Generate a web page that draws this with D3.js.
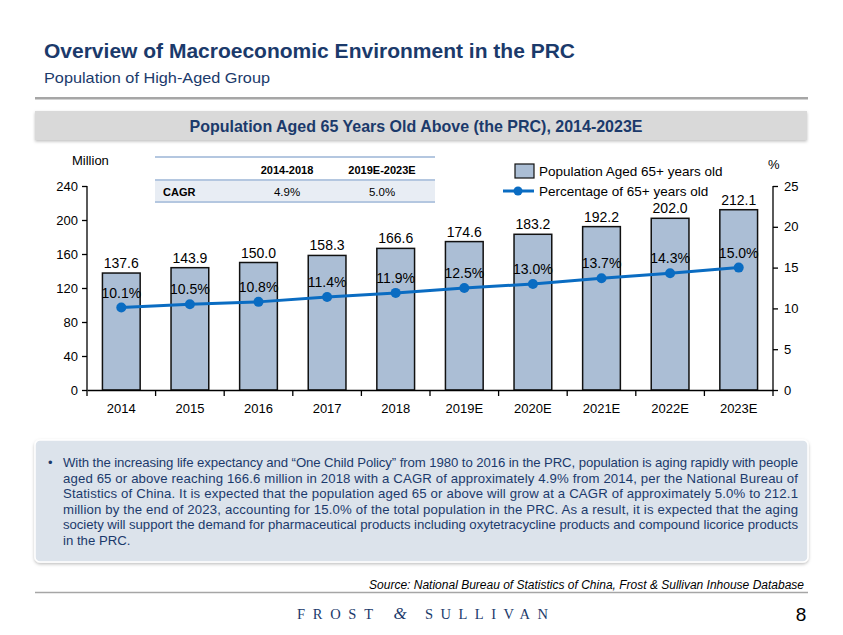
<!DOCTYPE html>
<html><head><meta charset="utf-8">
<script src="https://cdn.jsdelivr.net/npm/d3@7"></script>
<style>
html,body{margin:0;padding:0;background:#fff;}
svg{display:block;font-family:"Liberation Sans",Arial,sans-serif;}
</style></head>
<body>
<svg id="c" width="843" height="635"></svg>
<script>
const years = ["2014","2015","2016","2017","2018","2019E","2020E","2021E","2022E","2023E"];
const population = [137.6,143.9,150.0,158.3,166.6,174.6,183.2,192.2,202.0,212.1];
const percentage = [10.1,10.5,10.8,11.4,11.9,12.5,13.0,13.7,14.3,15.0];
const leftTicks = [0,40,80,120,160,200,240];
const rightTicks = [0,5,10,15,20,25];
const cagrPeriods = ["2014-2018","2019E-2023E"];
const cagrValues = ["4.9%","5.0%"];
const bodyLines = [
 "With the increasing life expectancy and \u201cOne Child Policy\u201d from 1980 to 2016 in the PRC, population is aging rapidly with people",
 "aged 65 or above reaching 166.6 million in 2018 with a CAGR of approximately 4.9% from 2014, per the National Bureau of",
 "Statistics of China. It is expected that the population aged 65 or above will grow at a CAGR of approximately 5.0% to 212.1",
 "million by the end of 2023, accounting for 15.0% of the total population in the PRC. As a result, it is expected that the aging",
 "society will support the demand for pharmaceutical products including oxytetracycline products and compound licorice products",
 "in the PRC."
];

const navy = "#1B3A6B";
const svg = d3.select("#c");
const defs = svg.append("defs");
const f = defs.append("filter").attr("id","sh").attr("x","-5%").attr("y","-20%").attr("width","110%").attr("height","140%");
f.append("feDropShadow").attr("dx",0).attr("dy",1.5).attr("stdDeviation",1.5).attr("flood-color","#000").attr("flood-opacity",0.25);

// Header
svg.append("text").attr("x",44).attr("y",58).attr("font-size",19.5).attr("font-weight","bold").attr("fill",navy)
  .attr("textLength",531).attr("lengthAdjust","spacingAndGlyphs")
  .text("Overview of Macroeconomic Environment in the PRC");
svg.append("text").attr("x",44).attr("y",83).attr("font-size",15).attr("fill",navy)
  .attr("textLength",226).attr("lengthAdjust","spacingAndGlyphs")
  .text("Population of High-Aged Group");
svg.append("rect").attr("x",35).attr("y",97).attr("width",773).attr("height",2.5).attr("fill","#A6A6A6");

// chart title box
svg.append("rect").attr("x",35).attr("y",111).attr("width",772).attr("height",29).attr("fill","#D9D9D9").attr("filter","url(#sh)");
svg.append("text").attr("x",416).attr("y",132).attr("text-anchor","middle").attr("font-size",16.5).attr("font-weight","bold").attr("fill",navy)
  .attr("textLength",453).attr("lengthAdjust","spacingAndGlyphs")
  .text("Population Aged 65 Years Old Above (the PRC), 2014-2023E");

// Scales
const x = d3.scaleBand().domain(years).range([87,773]).paddingInner(0.45).paddingOuter(0.225);
const yL = d3.scaleLinear().domain([0,240]).range([390,186]);
const yR = d3.scaleLinear().domain([0,25]).range([390,186]);
const step = x.step();

// bars
const g = svg.append("g");
g.selectAll("rect.bar").data(years).join("rect").attr("class","bar")
  .attr("x",d=>x(d)).attr("width",x.bandwidth())
  .attr("y",(d,i)=>yL(population[i])).attr("height",(d,i)=>yL(0)-yL(population[i]))
  .attr("fill","#ABBED5").attr("stroke","#111").attr("stroke-width",1.5);
g.selectAll("text.bv").data(years).join("text").attr("class","bv")
  .attr("x",d=>x(d)+x.bandwidth()/2).attr("y",(d,i)=>yL(population[i])-5)
  .attr("text-anchor","middle").attr("font-size",14).attr("fill","#000")
  .text((d,i)=>population[i].toFixed(1));

// axes
const axL = svg.append("g").attr("transform","translate(87,0)")
  .call(d3.axisLeft(yL).tickValues(leftTicks).tickSize(5).tickPadding(4).tickFormat(d3.format("d")));
const axR = svg.append("g").attr("transform","translate(773,0)")
  .call(d3.axisRight(yR).tickValues(rightTicks).tickSize(5).tickPadding(6).tickFormat(d3.format("d")));
const axB = svg.append("g").attr("transform","translate(0,390)")
  .call(d3.axisBottom(x).tickSize(0).tickPadding(14));
[axL,axR,axB].forEach(a=>{
  a.selectAll("path.domain").attr("stroke","#000").attr("stroke-width",1.3);
  a.selectAll("line").attr("stroke","#000").attr("stroke-width",1.3);
  a.selectAll("text").attr("font-size",13).attr("fill","#000").attr("font-family","Liberation Sans, Arial, sans-serif");
});
axL.select("path.domain").attr("d","M0,186V390");
axR.select("path.domain").attr("d","M0,186V390");
// category boundary ticks
const bounds = years.map(d=>x(d)-step*x.paddingInner()/2).concat([773]);
axB.selectAll("line.bt").data(bounds).join("line").attr("class","bt")
  .attr("x1",d=>d).attr("x2",d=>d).attr("y1",0).attr("y2",6).attr("stroke","#000").attr("stroke-width",1.3);

svg.append("text").attr("x",72).attr("y",165).attr("font-size",13).text("Million");
svg.append("text").attr("x",768).attr("y",169).attr("font-size",13).text("%");

// line
const line = d3.line().x((d,i)=>x(years[i])+x.bandwidth()/2).y(d=>yR(d));
svg.append("path").datum(percentage).attr("d",line).attr("fill","none").attr("stroke","#0A6CC2").attr("stroke-width",3);
svg.selectAll("circle.pt").data(percentage).join("circle").attr("class","pt")
  .attr("cx",(d,i)=>x(years[i])+x.bandwidth()/2).attr("cy",d=>yR(d)).attr("r",5).attr("fill","#0A6CC2");
svg.selectAll("text.pv").data(percentage).join("text").attr("class","pv")
  .attr("x",(d,i)=>x(years[i])+x.bandwidth()/2).attr("y",d=>yR(d)-10)
  .attr("text-anchor","middle").attr("font-size",14).attr("fill","#000")
  .text(d=>d.toFixed(1)+"%");

// legend
svg.append("rect").attr("x",515).attr("y",164).attr("width",19).attr("height",14).attr("fill","#ABBED5").attr("stroke","#111").attr("stroke-width",1.2);
svg.append("text").attr("x",539).attr("y",176).attr("font-size",13.5).text("Population Aged 65+ years old");
svg.append("line").attr("x1",503).attr("x2",534).attr("y1",191).attr("y2",191).attr("stroke","#0A6CC2").attr("stroke-width",3);
svg.append("circle").attr("cx",518).attr("cy",191).attr("r",4.5).attr("fill","#0A6CC2");
svg.append("text").attr("x",539).attr("y",196).attr("font-size",13.5).text("Percentage of 65+ years old");

// CAGR table
svg.append("rect").attr("x",155).attr("y",180).attr("width",280).attr("height",22).attr("fill","#E8EDF4");
[157,180,202].forEach(yy=>svg.append("line").attr("x1",155).attr("x2",435).attr("y1",yy).attr("y2",yy).attr("stroke","#B4C7E0").attr("stroke-width",2));
const colX = [287,382];
cagrPeriods.forEach((p,i)=>svg.append("text").attr("x",colX[i]).attr("y",174).attr("text-anchor","middle").attr("font-size",11).attr("font-weight","bold").text(p));
svg.append("text").attr("x",163).attr("y",196).attr("font-size",11).attr("font-weight","bold").text("CAGR");
cagrValues.forEach((v,i)=>svg.append("text").attr("x",colX[i]).attr("y",196).attr("text-anchor","middle").attr("font-size",11.5).text(v));

// text box
svg.append("rect").attr("x",35).attr("y",440).attr("width",773).attr("height",122).attr("rx",5).attr("fill","#DCE3EB").attr("stroke","#fff").attr("stroke-width",1.5).attr("filter","url(#sh)");
svg.append("text").attr("x",48).attr("y",467).attr("font-size",13).attr("fill",navy).text("\u2022");
const lineY = [467,482.5,498,513.5,529,544.5];
bodyLines.forEach((t,i)=>{
  const tx = svg.append("text").attr("x",63).attr("y",lineY[i]).attr("font-size",13.2).attr("fill",navy).text(t);
  if(i<bodyLines.length-1) tx.attr("textLength",735).attr("lengthAdjust","spacing");
});

// source
svg.append("text").attr("x",804).attr("y",589).attr("text-anchor","end").attr("font-size",12).attr("font-style","italic").attr("fill","#000")
  .text("Source: National Bureau of Statistics of China, Frost & Sullivan Inhouse Database");
svg.append("line").attr("x1",35).attr("x2",808).attr("y1",592.5).attr("y2",592.5).attr("stroke","#A6A6A6").attr("stroke-width",1.5);

// footer
const ff = "Liberation Serif, serif";
svg.append("text").attr("x",297).attr("y",619).attr("font-size",14.5).attr("fill",navy).attr("font-family",ff)
  .attr("textLength",76).attr("lengthAdjust","spacing").text("FROST");
svg.append("text").attr("x",400).attr("y",619).attr("text-anchor","middle").attr("font-size",17).attr("font-style","italic").attr("fill",navy).attr("font-family",ff).text("&");
svg.append("text").attr("x",425).attr("y",619).attr("font-size",14.5).attr("fill",navy).attr("font-family",ff)
  .attr("textLength",123).attr("lengthAdjust","spacing").text("SULLIVAN");
svg.append("text").attr("x",801).attr("y",621).attr("text-anchor","middle").attr("font-size",19).attr("fill","#000").text("8");
</script>
</body></html>
